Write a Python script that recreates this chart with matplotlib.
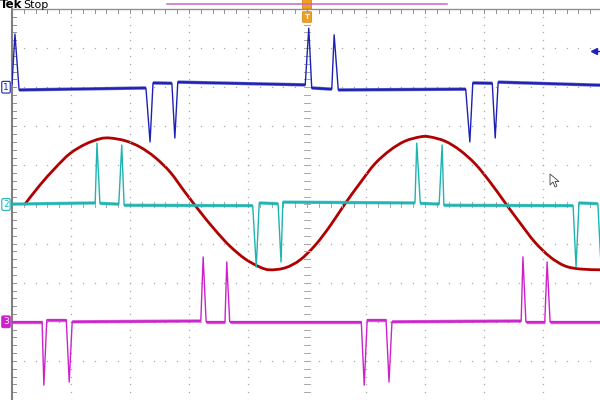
import matplotlib
matplotlib.use("Agg")
import matplotlib.pyplot as plt
import numpy as np
from matplotlib.patches import FancyBboxPatch, Polygon, PathPatch
from matplotlib.path import Path
from matplotlib.collections import LineCollection

# ---- data (time and amplitude in screen divisions) ----
ch_offsets = [3.0, 0.0, -3.0]

ch1_t = [-5.0, -4.95, -4.88, -2.73, -2.66, -2.61, -2.29, -2.24, -2.19, -0.03, 0.03, 0.08,
         0.42, 0.46, 0.53, 2.69, 2.76, 2.81, 3.14, 3.19, 3.24, 5.0]
ch1_v = [0.08, 1.36, -0.07, -0.02, -1.40, 0.11, 0.10, -1.30, 0.13, 0.06, 1.51, -0.02,
         -0.05, 1.34, -0.07, -0.05, -1.40, 0.11, 0.10, -1.30, 0.13, 0.05]

ch2_t = [-5.0, -3.59, -3.56, -3.51, -3.19, -3.14, -3.10, -0.92, -0.86, -0.81, -0.49, -0.44,
         -0.41, 1.83, 1.86, 1.92, 2.24, 2.29, 2.32, 4.51, 4.56, 4.61, 4.93, 4.98]
ch2_v = [0.01, 0.04, 1.57, 0.03, 0.01, 1.52, -0.02, -0.03, -1.60, 0.04, 0.02, -1.47,
         0.06, 0.04, 1.57, 0.03, 0.01, 1.52, -0.02, -0.03, -1.60, 0.04, 0.02, -1.47]

ch3_t = [-5.0, -4.49, -4.46, -4.41, -4.08, -4.03, -3.98, -1.80, -1.76, -1.71, -1.39, -1.36,
         -1.31, 0.92, 0.97, 1.02, 1.34, 1.39, 1.44, 3.63, 3.66, 3.71, 4.03, 4.07, 4.12, 5.0]
ch3_v = [0.0, 0.0, -1.62, 0.05, 0.05, -1.54, 0.0, 0.02, 1.66, 0.0, 0.0, 1.53,
         0.0, 0.0, -1.62, 0.05, 0.05, -1.54, 0.0, 0.02, 1.66, 0.0, 0.0, 1.53, 0.0, 0.0]

math_t = [-4.78, -4.53, -4.27, -4.02, -3.76, -3.51, -3.34, -3.08, -2.83, -2.58, -2.32, -2.07,
          -1.81, -1.56, -1.31, -1.05, -0.80, -0.63, -0.37, -0.12, 0.14, 0.39, 0.64, 0.90,
          1.15, 1.41, 1.66, 1.92, 2.08, 2.34, 2.59, 2.85, 3.10, 3.36, 3.61, 3.86, 4.12,
          4.37, 4.63, 4.97]
math_v = [0.01, 0.49, 0.93, 1.30, 1.54, 1.68, 1.70, 1.63, 1.47, 1.21, 0.83, 0.32,
          -0.19, -0.65, -1.06, -1.39, -1.60, -1.67, -1.62, -1.42, -1.04, -0.55, 0.01, 0.55,
          1.04, 1.39, 1.62, 1.73, 1.73, 1.62, 1.39, 1.04, 0.58, 0.04, -0.47, -0.96, -1.34,
          -1.57, -1.65, -1.67]

ch_labels = ["1", "2", "3"]
ch_colors = ["#1e22b4", "#1fb3b3", "#cc22cc"]
math_color = "#b00000"

# ---- figure ----
W, H = 600, 400
fig = plt.figure(figsize=(6, 4), dpi=100)
fig.patch.set_facecolor("white")
ax = fig.add_axes([12 / W, 0, 590 / W, 391 / H])
ax.set_xlim(-5, 5)
ax.set_ylim(-5, 5)
ax.axis("off")

grid_c = "#a8a8a8"
minor = np.arange(-5, 5.001, 0.2)
for g in range(-4, 5):
    if g != 0:
        ax.plot(np.full_like(minor, g), minor, ls="none", marker="s", ms=0.9, mew=0, color=grid_c)
        ax.plot(minor, np.full_like(minor, g), ls="none", marker="s", ms=0.9, mew=0, color=grid_c)
# center cross with tick marks
for m in minor:
    ax.plot([-0.05, 0.05], [m, m], color=grid_c, lw=0.7)
    ax.plot([m, m], [-0.07, 0.07], color=grid_c, lw=0.7)
# border ticks
for m in minor:
    ax.plot([-5, -4.93], [m, m], color="#909090", lw=0.7, clip_on=False)
    ax.plot([m, m], [5, 4.9], color="#909090", lw=0.7, clip_on=False)
ax.plot([-5, -5], [-5, 5], color="#808080", lw=1.5, clip_on=False)
ax.plot([-5, 5], [5, 5], color="#909090", lw=1.0, clip_on=False)

# channel traces: thin line plus a wider band on the flat (noisy) parts
traces = [(ch1_t, ch1_v), (ch2_t, ch2_v), (ch3_t, ch3_v)]
for (t, v), off, col in zip(traces, ch_offsets, ch_colors):
    y = np.array(v) + off
    ax.plot(t, y, color=col, lw=1.0, solid_joinstyle="round")
    segs = [[(t[i], y[i]), (t[i + 1], y[i + 1])] for i in range(len(t) - 1)
            if abs(v[i]) < 0.3 and abs(v[i + 1]) < 0.3]
    ax.add_collection(LineCollection(segs, colors=col, linewidths=2.4, alpha=0.75))
    ax.add_collection(LineCollection(segs, colors=col, linewidths=1.2))

# math trace drawn as a smooth curve through the points (Catmull-Rom -> cubic Bezier)
P = np.column_stack([math_t, math_v])
verts = [tuple(P[0])]
codes = [Path.MOVETO]
for i in range(len(P) - 1):
    p0 = P[i - 1] if i > 0 else P[i]
    p1, p2 = P[i], P[i + 1]
    p3 = P[i + 2] if i + 2 < len(P) else P[i + 1]
    c1 = p1 + (p2 - p0) / 6.0
    c2 = p2 - (p3 - p1) / 6.0
    verts += [tuple(c1), tuple(c2), tuple(p2)]
    codes += [Path.CURVE4] * 3
ax.add_patch(PathPatch(Path(verts, codes), fc="none", ec=math_color, lw=2.0, capstyle="round"))

# channel markers at left edge
ytr = ax.get_yaxis_transform()
for lab, off, col in zip(ch_labels, ch_offsets, ch_colors):
    filled = lab == "3"
    ax.text(-6 / 590, off, lab, transform=ytr, ha="center", va="center",
            fontsize=6.5, color="white" if filled else col, clip_on=False,
            bbox=dict(boxstyle="round,pad=0.15", fc=col if filled else "white", ec=col, lw=0.8))

# trigger level arrow (right edge)
ax.plot([4.86, 4.98], [3.92, 3.92], color=ch_colors[0], lw=1.0, clip_on=False)
ax.plot([4.86], [3.92], marker="<", ms=4, color=ch_colors[0], clip_on=False)

# top texts / markers
fig.text(0 / W, 1 - 8.5 / H, "Tek", fontsize=8.5, fontweight="bold", va="baseline", ha="left")
fig.text(23 / W, 1 - 8.5 / H, "Stop", fontsize=8, va="baseline", ha="left")
fig.add_artist(plt.Line2D([167 / W, 447 / W], [1 - 3.5 / H, 1 - 3.5 / H], color="#c868c8", lw=1.1))
for (yc, h) in [(4, 8), (17, 9)]:
    fig.add_artist(FancyBboxPatch((303.5 / W, 1 - (yc + h / 2) / H), 7 / W, h / H,
                                  boxstyle="round,pad=0.002", fc="#f0a020", ec="#d08010", lw=0.5,
                                  transform=fig.transFigure))
fig.text(307 / W, 1 - 17 / H, "T", fontsize=5, color="white", ha="center", va="center", fontweight="bold")

# mouse pointer
px, py = 550, 174
ptr = [(0, 0), (0, 11), (3, 8), (5, 13), (7, 12), (5, 7.5), (9, 7.5)]
fig.add_artist(Polygon([((px + a) / W, 1 - (py + b) / H) for a, b in ptr], closed=True,
                       fc="white", ec="#404040", lw=0.6, transform=fig.transFigure))

fig.savefig("out.png", dpi=100, facecolor="white")
